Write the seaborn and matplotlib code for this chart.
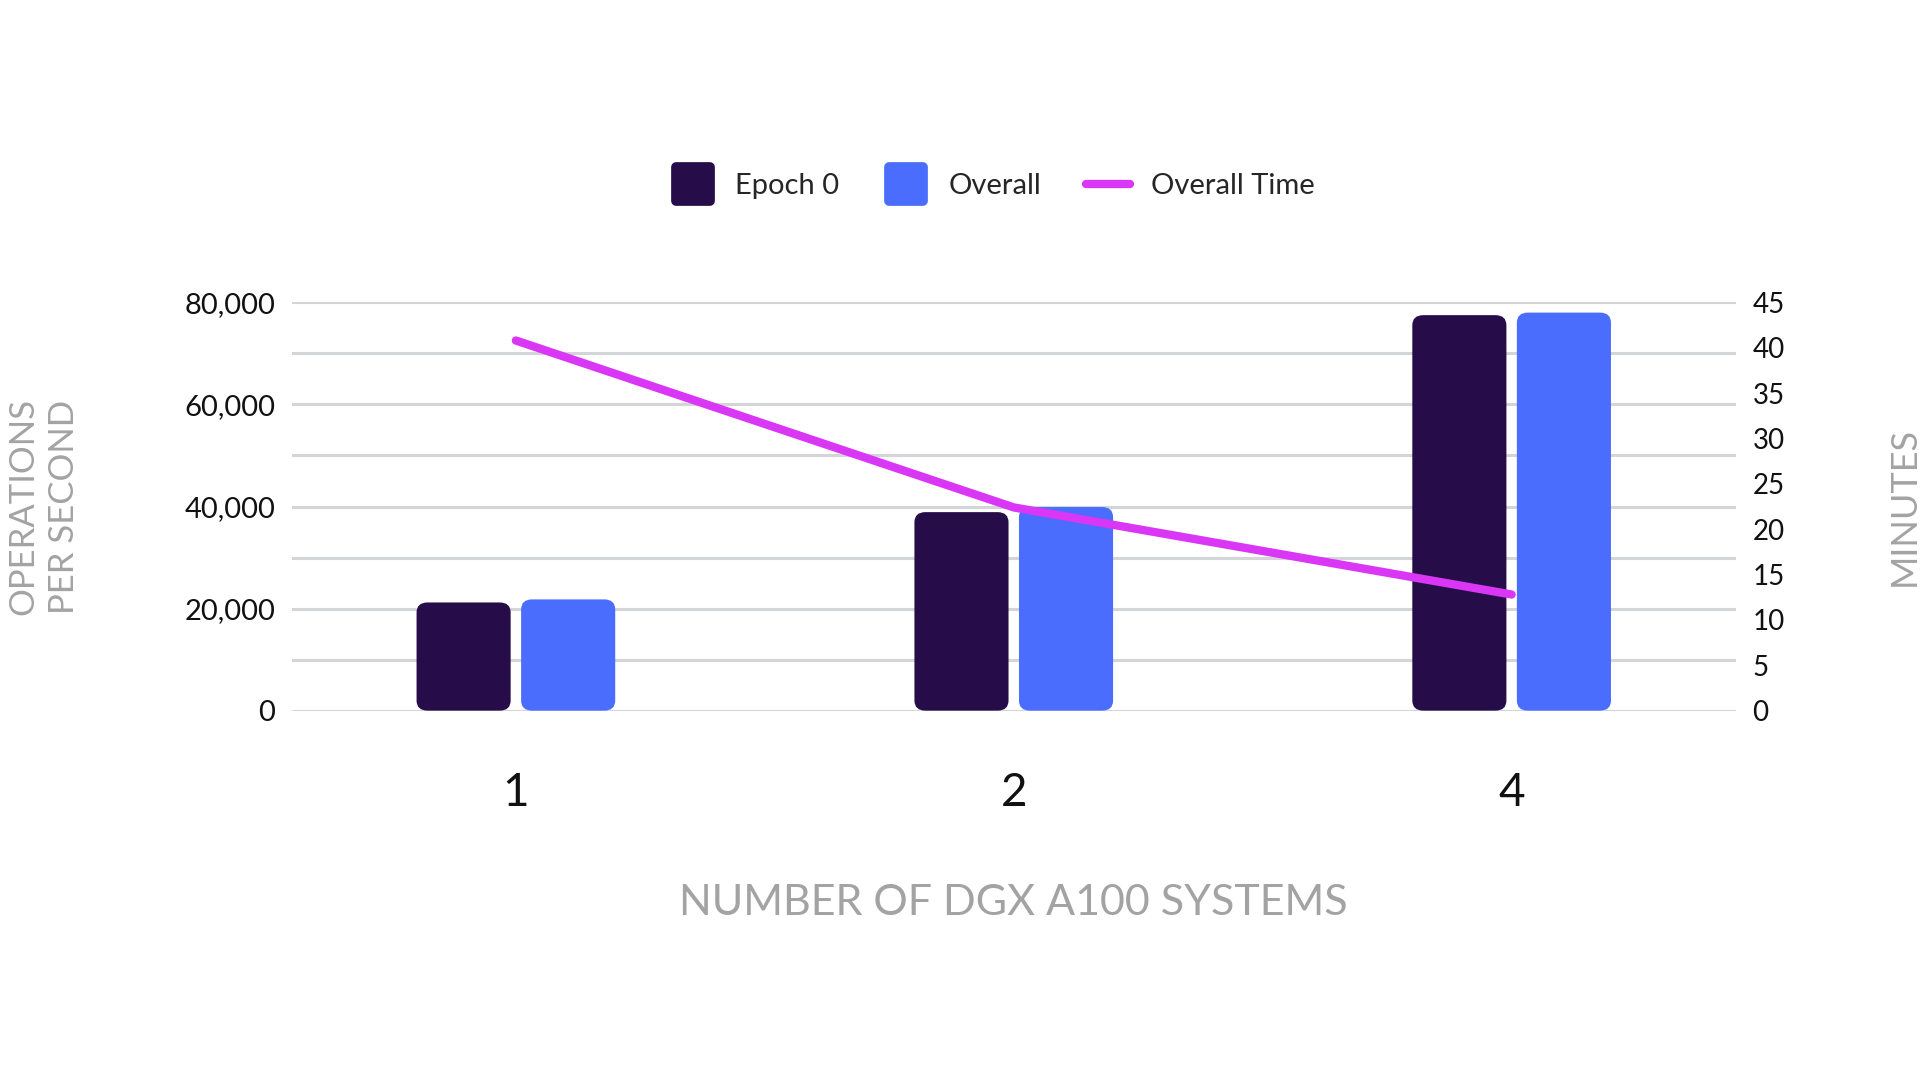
import numpy as np
import pandas as pd
import seaborn as sns
import matplotlib
matplotlib.use('Agg')
import matplotlib.pyplot as plt
from matplotlib.patches import FancyBboxPatch
from matplotlib.lines import Line2D
from matplotlib.markers import MarkerStyle

# values
systems = ['1', '2', '4']
epoch0_ops = [21200, 38900, 77500]
overall_ops = [21800, 39900, 78000]
overall_time_min = [40.8, 22.4, 12.8]

series_names = ['Epoch 0', 'Overall']
colors = {'Epoch 0': '#260c48', 'Overall': '#4a6dfd'}
line_color = '#d936f5'
grid_color = '#d4d5d9'
label_gray = '#a3a3a3'

df = pd.DataFrame({
    'systems': systems * 2,
    'series': ['Epoch 0'] * 3 + ['Overall'] * 3,
    'ops': epoch0_ops + overall_ops,
})

sns.set_theme(style='white', rc={"axes.spines.right": False, "axes.spines.top": False})
plt.rcParams['font.family'] = ['Lato', 'DejaVu Sans']

fig = plt.figure(figsize=(19.2, 10.8), dpi=100)
ax = fig.add_axes([0.152, 0.342, 0.752, 0.378])

sns.barplot(data=df, x='systems', y='ops', hue='series', hue_order=series_names,
            palette=colors, saturation=1, width=0.42, gap=0.1, legend=False,
            ax=ax, zorder=2)

# swap the plain rectangles for rounded ones
bars = list(ax.patches)
for p in bars:
    x, y = p.get_x(), p.get_y()
    w, h = p.get_width(), p.get_height()
    fc = p.get_facecolor()
    p.remove()
    ax.add_patch(FancyBboxPatch((x, y), w, h,
                                boxstyle='round,pad=0,rounding_size=0.022',
                                mutation_aspect=90000, facecolor=fc,
                                edgecolor='none', zorder=2))

ax.set_xlim(-0.45, 2.45)
ax.set_ylim(0, 80000)
ax.set_yticks(np.arange(0, 80001, 20000))
ax.set_yticks(np.arange(10000, 80000, 20000), minor=True)
ax.set_yticklabels([f'{v:,}' for v in range(0, 80001, 20000)])
ax.grid(axis='y', which='both', color=grid_color, linewidth=2.2)
ax.set_axisbelow(True)
for s in ax.spines.values():
    s.set_visible(False)
ax.tick_params(axis='y', which='both', length=0, pad=12, labelsize=21, labelcolor='#111111')
ax.tick_params(axis='x', length=0, pad=44, labelsize=33, labelcolor='#111111')

ax.set_xlabel('NUMBER OF DGX A100 SYSTEMS', fontsize=31, color=label_gray, va='top')
ax.xaxis.set_label_coords(0.5, -0.425)
ax.set_ylabel('OPERATIONS\nPER SECOND', fontsize=25, color=label_gray, linespacing=1.3)
ax.yaxis.set_label_coords(-0.147, 0.5)

ax2 = ax.twinx()
sns.lineplot(x=np.arange(len(systems)), y=overall_time_min, color=line_color,
             linewidth=6, ax=ax2, solid_capstyle='round', zorder=3)
ax2.set_ylim(0, 45)
ax2.set_yticks(np.arange(0, 46, 5))
ax2.tick_params(axis='y', length=0, pad=12, labelsize=20, labelcolor='#111111')
for s in ax2.spines.values():
    s.set_visible(False)
ax2.grid(False)
ax2.set_ylabel('MINUTES', fontsize=26, color=label_gray)
ax2.yaxis.set_label_coords(1.105, 0.5)

handles = [
    Line2D([], [], linestyle='none', marker=MarkerStyle('s', joinstyle='round'),
           markersize=25, markeredgewidth=7, color=colors['Epoch 0']),
    Line2D([], [], linestyle='none', marker=MarkerStyle('s', joinstyle='round'),
           markersize=25, markeredgewidth=7, color=colors['Overall']),
    Line2D([], [], color=line_color, linewidth=6, solid_capstyle='round'),
]
fig.legend(handles, ['Epoch 0', 'Overall', 'Overall Time'], loc='center',
           bbox_to_anchor=(0.517, 0.828), ncol=3, frameon=False, fontsize=21,
           handlelength=1.5, handletextpad=0.7, columnspacing=1.55)

fig.savefig('out.png', dpi=100, facecolor='white')
